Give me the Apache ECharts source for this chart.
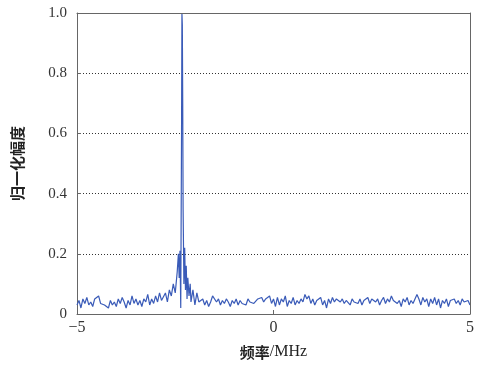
<!DOCTYPE html>
<html>
<head>
<meta charset="utf-8">
<script src="https://cdn.jsdelivr.net/npm/echarts@6/dist/echarts.min.js"></script>
<style>
  html, body { margin: 0; padding: 0; background: #fff; }
  #chart { width: 485px; height: 365px; }
</style>
</head>
<body>
<div id="chart"></div>
<script>
// noise floor left of the peak, -5.00 .. -2.85 step 0.05
const leftStart = -5, step = 0.05;
const leftNoise = [
    0.03, 0.045, 0.02, 0.05, 0.035, 0.055, 0.03, 0.04, 0.025, 0.05,
    0.045, 0.06, 0.035, 0.04, 0.03, 0.035, 0.02, 0.045, 0.03, 0.04,
    0.025, 0.05, 0.035, 0.055, 0.04, 0.02, 0.045, 0.03, 0.06, 0.035,
    0.05, 0.03, 0.045, 0.025, 0.05, 0.04, 0.065, 0.03, 0.05, 0.035,
    0.06, 0.04, 0.07, 0.045
];

// peak region
const peakFreq = [-2.80, -2.75, -2.70, -2.65, -2.60, -2.55, -2.50, -2.45, -2.42, -2.40,
    -2.38, -2.36, -2.34, -2.33, -2.32, -2.31, -2.30, -2.28, -2.26, -2.24,
    -2.22, -2.20, -2.18, -2.15, -2.12, -2.10, -2.05, -2.00, -1.95, -1.90];
const peakAmp = [0.05, 0.07, 0.04, 0.08, 0.06, 0.10, 0.07, 0.14, 0.20, 0.12,
    0.21, 0.02, 0.60, 1.00, 0.96, 0.70, 0.35, 0.10, 0.22, 0.08,
    0.16, 0.05, 0.12, 0.06, 0.10, 0.04, 0.08, 0.03, 0.07, 0.04];

// noise floor right of the peak, -1.85 .. 5.00 step 0.05
const rightStart = -1.85;
const rightNoise = [
    0.035, 0.05, 0.03, 0.045, 0.025, 0.04, 0.06, 0.065, 0.04, 0.05,
    0.03, 0.045, 0.035, 0.05, 0.04, 0.025, 0.045, 0.035, 0.05, 0.03,
    0.045, 0.035, 0.04, 0.03, 0.05, 0.04, 0.045, 0.035, 0.04, 0.05,
    0.045, 0.055, 0.04, 0.05, 0.045, 0.06, 0.035, 0.05, 0.025, 0.055,
    0.03, 0.05, 0.04, 0.06, 0.025, 0.045, 0.035, 0.055, 0.03, 0.045,
    0.035, 0.05, 0.04, 0.065, 0.05, 0.06, 0.035, 0.05, 0.03, 0.045,
    0.04, 0.055, 0.03, 0.045, 0.02, 0.05, 0.035, 0.055, 0.04, 0.05,
    0.045, 0.04, 0.05, 0.035, 0.045, 0.04, 0.03, 0.05, 0.04, 0.045,
    0.035, 0.05, 0.03, 0.045, 0.04, 0.055, 0.035, 0.05, 0.045, 0.04,
    0.05, 0.03, 0.045, 0.055, 0.035, 0.05, 0.04, 0.06, 0.045, 0.05,
    0.035, 0.045, 0.025, 0.05, 0.04, 0.055, 0.03, 0.045, 0.035, 0.04,
    0.065, 0.05, 0.03, 0.055, 0.04, 0.05, 0.025, 0.05, 0.035, 0.055,
    0.03, 0.05, 0.02, 0.045, 0.035, 0.05, 0.025, 0.045, 0.04, 0.05,
    0.035, 0.045, 0.03, 0.05, 0.04, 0.035, 0.045, 0.03
];

const points = [];
leftNoise.forEach((v, i) => points.push([+(leftStart + i * step).toFixed(3), v]));
peakFreq.forEach((f, i) => points.push([f, peakAmp[i]]));
rightNoise.forEach((v, i) => points.push([+(rightStart + i * step).toFixed(3), v]));

const serif = '"Liberation Serif", "DejaVu Serif", serif';
const cjk = '"Noto Sans CJK SC", sans-serif';

// plain frame axes for the top and right edges
const frameLine = { show: true, onZero: false, lineStyle: { color: '#666', width: 1 } };

const myChart = echarts.init(document.getElementById('chart'));
myChart.setOption({
    animation: false,
    grid: {
        left: 77, right: 15, top: 13, bottom: 49,
        show: false
    },
    xAxis: [
        {
            type: 'value',
            min: -5, max: 5, interval: 5,
            name: '{a|频率}{b|/MHz}',
            nameLocation: 'middle',
            nameGap: 30,
            nameTextStyle: {
                rich: {
                    a: { fontFamily: cjk, fontSize: 15, fontWeight: 'bold', color: '#222' },
                    b: { fontFamily: serif, fontSize: 16, color: '#222' }
                }
            },
            axisLine: frameLine,
            axisTick: { inside: true, length: 4, lineStyle: { color: '#666' } },
            axisLabel: {
                fontFamily: serif, fontSize: 16, color: '#333', margin: 6,
                formatter: v => v < 0 ? '\u2212' + Math.abs(v) : String(v)
            },
            splitLine: { show: false }
        },
        {
            type: 'value',
            position: 'top',
            min: -5, max: 5, interval: 5,
            z: 5,
            axisLine: frameLine,
            axisTick: { show: false },
            axisLabel: { show: false },
            splitLine: { show: false }
        }
    ],
    yAxis: [
        {
            type: 'value',
            min: 0, max: 1, interval: 0.2,
            name: '归一化幅度',
            nameLocation: 'middle',
            nameGap: 52,
            nameTextStyle: { fontFamily: cjk, fontSize: 15, fontWeight: 'bold', color: '#222' },
            axisLine: frameLine,
            axisTick: { inside: true, length: 4, lineStyle: { color: '#666' } },
            axisLabel: {
                fontFamily: serif, fontSize: 15, color: '#333', margin: 10,
                formatter: v => v === 0 ? '0' : v.toFixed(1)
            },
            splitLine: { show: true, lineStyle: { color: '#333', type: [1, 2], width: 1 } }
        },
        {
            type: 'value',
            position: 'right',
            min: 0, max: 1, interval: 0.2,
            z: 5,
            axisLine: frameLine,
            axisTick: { show: false },
            axisLabel: { show: false },
            splitLine: { show: false }
        }
    ],
    series: [{
        type: 'line',
        data: points,
        showSymbol: false,
        lineStyle: { color: '#3a5bb8', width: 1.2 }
    }]
});
</script>
</body>
</html>
